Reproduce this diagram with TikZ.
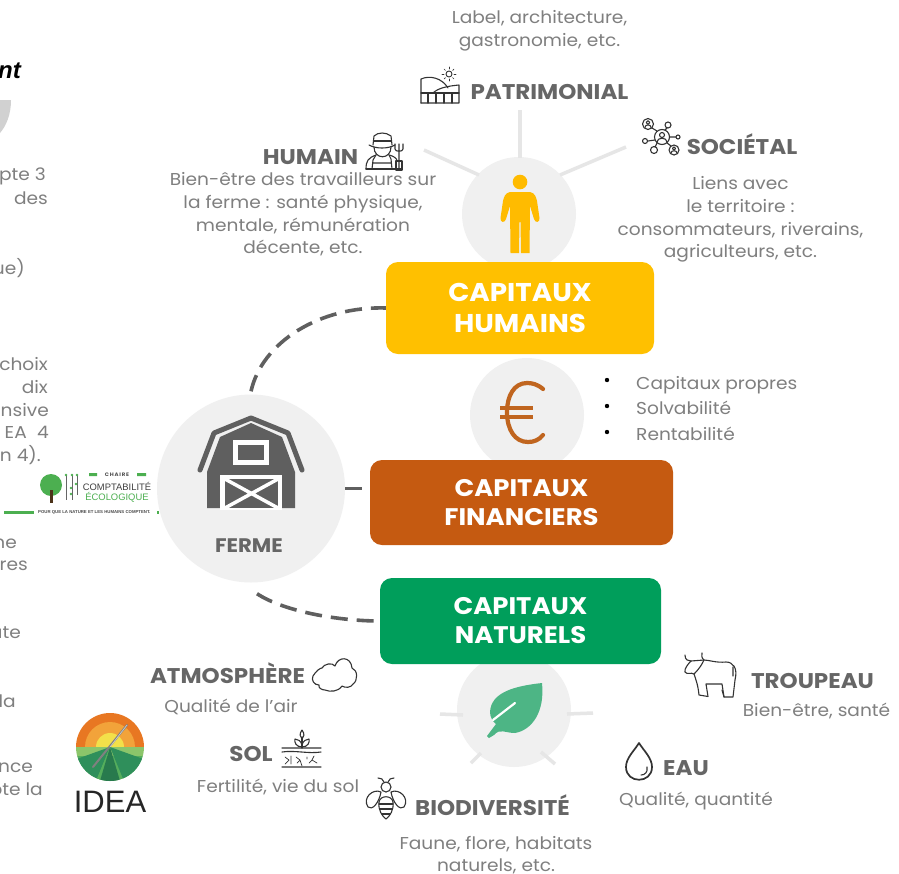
\documentclass[tikz,border=0pt]{standalone}
\usepackage{fontspec}
\setmainfont[FakeStretch=1.08]{Poppins}
\newfontfamily\arialf{Liberation Sans}
\usetikzlibrary{calc}
\definecolor{hd}{HTML}{666666}
\definecolor{bd}{HTML}{7F7F7F}
\definecolor{disc}{HTML}{F0F0F0}
\definecolor{ray}{HTML}{E6E6E6}
\definecolor{yel}{HTML}{FFC000}
\definecolor{bro}{HTML}{C55A11}
\definecolor{eur}{HTML}{C0651F}
\definecolor{gre}{HTML}{009E5B}
\definecolor{lf}{HTML}{4DB585}
\definecolor{dk}{HTML}{5F5F5F}
\definecolor{ic}{HTML}{333333}
\definecolor{lg}{HTML}{4CAF50}
\definecolor{ior}{HTML}{E87722}
\definecolor{iam}{HTML}{F2A33A}
\definecolor{iye}{HTML}{F3E04A}
\definecolor{igl}{HTML}{8CC56A}
\definecolor{igm}{HTML}{55AE5C}
\definecolor{igd}{HTML}{2F8F5B}
\tikzset{
 x=1pt,y=-1pt,
 headg/.style={font=\fontsize{21.3}{22}\selectfont\bfseries,text=hd,inner sep=0pt},
 body/.style={font=\fontsize{17.2}{22.7}\selectfont,text=bd,inner sep=0pt,align=center},
 capbox/.style={rounded corners=12pt,inner sep=0pt,text=white,align=center,font=\fontsize{24}{29}\selectfont\bfseries},
 disque/.style={circle,fill=disc,inner sep=0pt,minimum size=114pt},
 rayon/.style={draw=ray,line width=3.5pt},
 dashc/.style={draw=dk,line width=3.6pt,dash pattern=on 17pt off 9pt},
 icon/.style={draw=ic,line width=1.1pt,line join=round,line cap=round,fill=none},
 clipd/.style={body,anchor=east},
}
\begin{document}
\begin{tikzpicture}
\useasboundingbox (0,0) rectangle (899,873);
\fill[white] (0,0) rectangle (899,873);
% discs
\node[disque] (dh) at (519,214) {};
\node[disque] (de) at (527,415) {};
\node[disque] (dn) at (514,710) {};
\node[circle,fill=disc,inner sep=0pt,minimum size=188pt] (farm) at (251,488.5) {};
% capital boxes
\node[capbox,fill=yel,minimum width=268pt,minimum height=92pt,font=\fontsize{25.7}{31}\selectfont\bfseries] (ch) at (520,308) {CAPITAUX\\HUMAINS};
\node[capbox,fill=bro,minimum width=303pt,minimum height=85pt] (cf) at (521.5,502.5) {CAPITAUX\\FINANCIERS};
\node[capbox,fill=gre,minimum width=281pt,minimum height=86pt] (cn) at (520.5,621) {CAPITAUX\\NATURELS};
% connectors
\draw[dashc] ([yshift=3pt]farm.north) .. controls (262,342) and (320,306) .. (ch.west);
\draw[dk,line width=3.6pt] (farm.east) -- ([xshift=-8pt]cf.west |- farm.east);
\draw[dashc] ([xshift=6pt,yshift=-11pt]farm.south) .. controls (285,612) and (340,621) .. (cn.west);
% rays
\coordinate (rh1) at (424,150); \coordinate (rh2) at (520,110); \coordinate (rh3) at (626,147);
\draw[rayon] (rh1) -- (479,175);
\draw[rayon] (rh2) -- (520,158);
\draw[rayon] (rh3) -- (560,175);
\draw[rayon] (440,714) -- (463,715);
\draw[rayon] (567,714) -- (593,713);
\draw[rayon] (481,753) -- (471,763);
\draw[rayon] (541,752) -- (555,764);
% person
\fill[yel!92!orange] (520,182) circle (7.3);
\fill[yel!92!orange] (510,192) -- (530,192) .. controls (535,193) and (536,197) .. (537,201) -- (539.5,218) .. controls (540,223) and (535,223) .. (534,219) -- (530,206) -- (529.5,253) -- (521,253) -- (520.5,222) -- (519.5,222) -- (519,253) -- (510.5,253) -- (510,206) -- (506,219) .. controls (505,223) and (500,223) .. (500.5,218) -- (503,201) .. controls (504,197) and (505,193) .. (510,192) -- cycle;
% euro
\draw[eur,line width=4.2pt,line cap=round] (543,389) .. controls (537,384) and (532,383) .. (527,383) .. controls (514,383) and (507,396) .. (507,412) .. controls (507,430) and (515,442) .. (528,442) .. controls (534,442) and (539,440) .. (543,435);
\draw[eur,line width=3.4pt] (500,408) -- (533,408);
\draw[eur,line width=3.4pt] (500,417) -- (533,417);
% barn
\fill[dk] (207,508) -- (207,472) -- (220,437) -- (251,423) -- (282,437) -- (295,472) -- (295,508) -- cycle;
\draw[dk,line width=5pt,line cap=round,line join=round] (200,470) -- (214,433) -- (251,418) -- (288,433) -- (302,470);
\fill[white] (233,440) rectangle (269,465);
\fill[dk] (238,445) rectangle (264,460);
\fill[white] (220,475) rectangle (282,509);
\fill[dk] (225,479) rectangle (278,508);
\draw[white,line width=3.5pt] (225,479) -- (278,508) (278,479) -- (225,508);
\draw[white,line width=2pt] (220,508.5) -- (282,508.5);
% leaf
\fill[lf] (542,683) .. controls (515,686) and (491,692) .. (490,712) .. controls (490,717) and (493,722) .. (496,724) -- (487,736) -- (489,738) -- (494,735) .. controls (500,728) and (505,733) .. (515,733) .. controls (532,730) and (545,712) .. (542,683) -- cycle;
\draw[white,line width=2.2pt,line cap=round] (515,703) -- (493,720);
% headings and bodies
\node[body] (t1) at (539.5,31) {Label, architecture,\\gastronomie, etc.};
\node[headg] (hpat) at (549.5,92) {PATRIMONIAL};
\node[headg] (hhum) at (310.5,157) {HUMAIN};
\node[body] (t2) at (303,214.5) {Bien-être des travailleurs sur\\la ferme : santé physique,\\mentale, rémunération\\décente, etc.};
\node[headg] (hsoc) at (742,144) {SOCIÉTAL};
\node[body] (t3) at (740.5,219.5) {Liens avec\\le territoire :\\consommateurs, riverains,\\agriculteurs, etc.};
\node[headg] (hatm) at (227.5,673) {ATMOSPHÈRE};
\node[body] (t4) at (231,706.5) {Qualité de l’air};
\node[headg] (hsol) at (251,754) {SOL};
\node[body] (t5) at (278,786.5) {Fertilité, vie du sol};
\node[headg] (hbio) at (492.5,805) {BIODIVERSITÉ};
\node[body] (t6) at (496,855) {Faune, flore, habitats\\naturels, etc.};
\node[headg] (heau) at (686,768) {EAU};
\node[body] (t7) at (696,800.5) {Qualité, quantité};
\node[headg] (htro) at (812.5,681) {TROUPEAU};
\node[body] (t8) at (816.5,710.5) {Bien-être, santé};
\node[headg,font=\fontsize{19.6}{20}\selectfont\bfseries] (hfer) at (249,545.5) {FERME};
% list
\foreach \yy/\tt in {389/Capitaux propres,414/Solvabilité,440/Rentabilité}{
 \node[body,anchor=base west] at (636,\yy) {\tt};
}
\fill[black] (607,380) circle (2.2) (607,406) circle (2.2) (607,432) circle (2.2);
% clipped left column
\begin{scope}
\clip (0,150) rectangle (60,810);
\node[clipd] at (46,176) {pte 3};
\node[clipd] at (48,198) {des};
\node[clipd] at (25,268) {ue)};
\node[clipd] at (48,364) {choix};
\node[clipd] at (48,387) {dix};
\node[clipd] at (49,410) {ensive};
\node[clipd] at (49,432) {EA\hspace{.6em}4};
\node[clipd] at (41,455) {on 4).};
\node[clipd] at (17,544) {ne};
\node[clipd] at (28,566) {res};
\node[clipd] at (21,633) {ute};
\node[clipd] at (16,701) {la};
\node[clipd] at (33,768) {nce};
\node[clipd] at (43,791) {pte la};
\end{scope}
\node[anchor=east,inner sep=0pt,text=black,font=\arialf\fontsize{24}{24}\selectfont\bfseries\itshape] (tnt) at (21,71) {nt};
\fill[black!18] (0,100) -- (11,100) .. controls (11,115) and (6,126) .. (0,133) -- cycle;
% Patrimonial icon
\draw[icon,line width=0.9pt] (449,74) circle (3);
\foreach \a in {0,45,...,315}{\draw[icon,line width=0.7pt] ($(449,74)+(\a:5)$) -- ($(449,74)+(\a:7)$);}
\draw[icon] (421,103) -- (421,79) .. controls (430,75) and (442,78) .. (448,88);
\draw[icon] (421,103) -- (459,103) -- (459,85) .. controls (448,86) and (438,88) .. (433,93);
\draw[icon] (421,93) -- (459,93);
\draw[icon] (428,93) -- (428,103) (436,93) -- (436,103) (444,93) -- (444,103) (452,93) -- (452,103);
% Farmer icon
\draw[icon] (369,145) .. controls (376,149) and (388,149) .. (395,145);
\draw[icon] (373,145) -- (374,136) .. controls (378,132) and (386,132) .. (391,136) -- (392,145);
\draw[icon] (374,141) -- (391,141);
\draw[icon] (374,147) .. controls (374,160) and (391,160) .. (391,147);
\draw[icon] (366,169) .. controls (366,161) and (368,158) .. (376,155) (389,155) .. controls (393,156) and (397,158) .. (397,161);
\draw[icon] (366,169) -- (401,169);
\draw[icon] (372,169) -- (373,160) -- (376,155) (392,169) -- (391,159) -- (389,155) (373,163) -- (391,163);
\draw[icon] (399,170) -- (399,152) (395,144) -- (395,149) .. controls (395,152) and (403,152) .. (403,149) -- (403,144) (399,144) -- (399,152);
\draw[icon] (396,161) rectangle (402,170);
% Social icon
\draw[icon] (662,137) circle (7.5);
\draw[icon] (662,135) circle (2.5);
\draw[icon] (657,142) .. controls (657,137) and (667,137) .. (667,142);
\draw[icon] (648,124) circle (5.5);
\draw[icon] (648,122.5) circle (1.8);
\draw[icon] (645,127.5) .. controls (645,124) and (651,124) .. (651,127.5);
\draw[icon] (668,125) circle (3);
\draw[icon] (678,137) circle (2);
\draw[icon] (674,150) circle (5);
\draw[icon] (674,148.5) circle (1.6);
\draw[icon] (671,153) .. controls (671,150) and (677,150) .. (677,153);
\draw[icon] (654,150) circle (3.5);
\draw[icon] (645,141) circle (2.5);
\draw[icon] (652,128) -- (657,131) (667,128) -- (665,130) (670,137) -- (676,137) (667,143) -- (671,146) (657,143) -- (655,147) (655,140) -- (648,141);
% Cloud icon
\draw[icon] (325,690) .. controls (322,690) and (318,688) .. (319,685) .. controls (314,685) and (311,680) .. (313,676) .. controls (316,671) and (320,668) .. (322,668) .. controls (324,664) and (332,662) .. (335,666) .. controls (338,656) and (351,656) .. (352,668) .. controls (358,670) and (358,681) .. (353,684) .. controls (351,688) and (345,688) .. (342,686) .. controls (338,692) and (330,692) .. (325,690) -- cycle;
% Soil icon
\draw[icon] (302,748) -- (302,737);
\draw[icon] (302,730) .. controls (299,734) and (300,737) .. (302,739) .. controls (304,737) and (305,734) .. (302,730);
\draw[icon] (302,747) .. controls (296,747) and (294,742) .. (295,739) .. controls (298,739) and (301,741) .. (302,745);
\draw[icon] (302,747) .. controls (308,747) and (310,742) .. (309,739) .. controls (306,739) and (303,741) .. (302,745);
\draw[icon] (282,748) -- (321,748) (282,752) .. controls (295,750) and (308,754) .. (321,752) (282,767) -- (321,767);
\draw[icon,line width=0.7pt] (285,757) -- (289,760) -- (285,764) (296,757) -- (300,760) -- (302,766) (300,760) -- (297,763) (314,756) -- (312,760) -- (317,763) (312,760) -- (309,763) (291,756) -- (291,764) (307,757) -- (307,759);
% Bee icon
\draw[icon] (386,787) circle (5);
\draw[icon] (384,782) .. controls (383,779) and (381,778) .. (378,778) (388,782) .. controls (389,779) and (391,778) .. (394,778);
\draw[icon] (381,792) .. controls (373,788) and (362,798) .. (368,807) .. controls (372,811) and (379,803) .. (381,792) -- cycle;
\draw[icon] (391,792) .. controls (399,788) and (410,798) .. (404,807) .. controls (400,811) and (393,803) .. (391,792) -- cycle;
\draw[icon] (379,802) .. controls (378,810) and (382,816) .. (386,819) .. controls (390,816) and (394,810) .. (393,802) .. controls (392,795) and (380,795) .. (379,802) -- cycle;
\draw[icon] (379,804) -- (393,804) (380,809) -- (392,809) (382,814) -- (390,814);
% Cow icon
\draw[icon] (685,655) .. controls (685,660) and (688,661) .. (691,661) .. controls (688,664) and (684,669) .. (685,672) .. controls (687,675) and (691,672) .. (694,674) .. controls (696,680) and (698,685) .. (699,695) -- (708,696.5) -- (706,684) -- (722,684) -- (724,697) -- (733,697) -- (735,680) .. controls (738,668) and (733,662) .. (726,662) .. controls (716,663) and (709,660) .. (704,660) .. controls (701,658) and (702,655) .. (702,653);
\draw[icon] (691,661) -- (704,660) (724,697) -- (722,690) (733,667) -- (733,676) (704,660) .. controls (702,664) and (700,668) .. (694,674);
% Drop icon
\draw[icon,line width=1.7pt] (639,743) .. controls (634,751) and (626,758) .. (626,767) .. controls (626,784) and (652,784) .. (652,767) .. controls (652,758) and (644,751) .. (639,743) -- cycle;
\draw[icon] (647,767) .. controls (648,772) and (645,775) .. (641,775);
% Chaire logo
\fill[lg] (51,485) circle (11);
\fill[black!60!brown] (49.5,490) rectangle (52.5,503);
\draw[black!60,line width=.6pt] (66,475) -- (66,500) (72,475) -- (72,500) (77,475) -- (77,495);
\fill[lg] (66,475) circle (1.4) (72,475) circle (1.4) (77,475) circle (1.4) (71,488) circle (1.4) (71,494) circle (1.4) (76,484) circle (1.4);
\fill[lg] (89,473) rectangle (97,476) (137,473) rectangle (146,476);
\node[inner sep=0pt,text=black!70,font=\fontsize{5}{5}\selectfont\bfseries] (lcha) at (117,474.5) {C\,H\,A\,I\,R\,E};
\node[inner sep=0pt,text=black!75,font=\arialf\fontsize{9.4}{9}\selectfont] (lcom) at (117,486) {COMPTABILITÉ};
\node[inner sep=0pt,text=lg,font=\arialf\fontsize{9.4}{9}\selectfont] (leco) at (117,497) {ÉCOLOGIQUE};
\fill[lg] (4,510.5) rectangle (34,513.5);
\node[inner sep=0pt,anchor=west,text=black!70,font=\arialf\fontsize{4.3}{5}\selectfont\bfseries] (lpou) at (38,512) {POUR QUE LA NATURE ET LES HUMAINS COMPTENT.};
\fill[lg] (156.5,510.5) rectangle (159,513.5);
% IDEA logo
\begin{scope}
\clip (110,747) circle (34);
\fill[ior] (76,713) rectangle (144,747);
\fill[iam] (110,747) circle (25);
\fill[iye] (110,747) circle (14);
\fill[igl] (76,747) rectangle (144,756);
\fill[igm] (76,756) rectangle (144,781);
\fill[igd] (110,747) -- (74,760) -- (85,781) -- (96,781) -- cycle;
\fill[igd] (110,747) -- (146,760) -- (135,781) -- (124,781) -- cycle;
\fill[igm] (110,747) -- (96,781) -- (100,781) -- cycle;
\fill[igd!85!black] (110,747) -- (100,781) -- (120,781) -- cycle;
\end{scope}
\draw[black!50,line width=2pt,line cap=round] (127,725) -- (93,767);
\draw[white!60!gray,line width=.7pt] (127,725) -- (110,747);
\node[inner sep=0pt,text=black!85,font=\arialf\fontsize{31}{31}\selectfont] (lid) at (110,802) {IDEA};
\end{tikzpicture}
\end{document}
